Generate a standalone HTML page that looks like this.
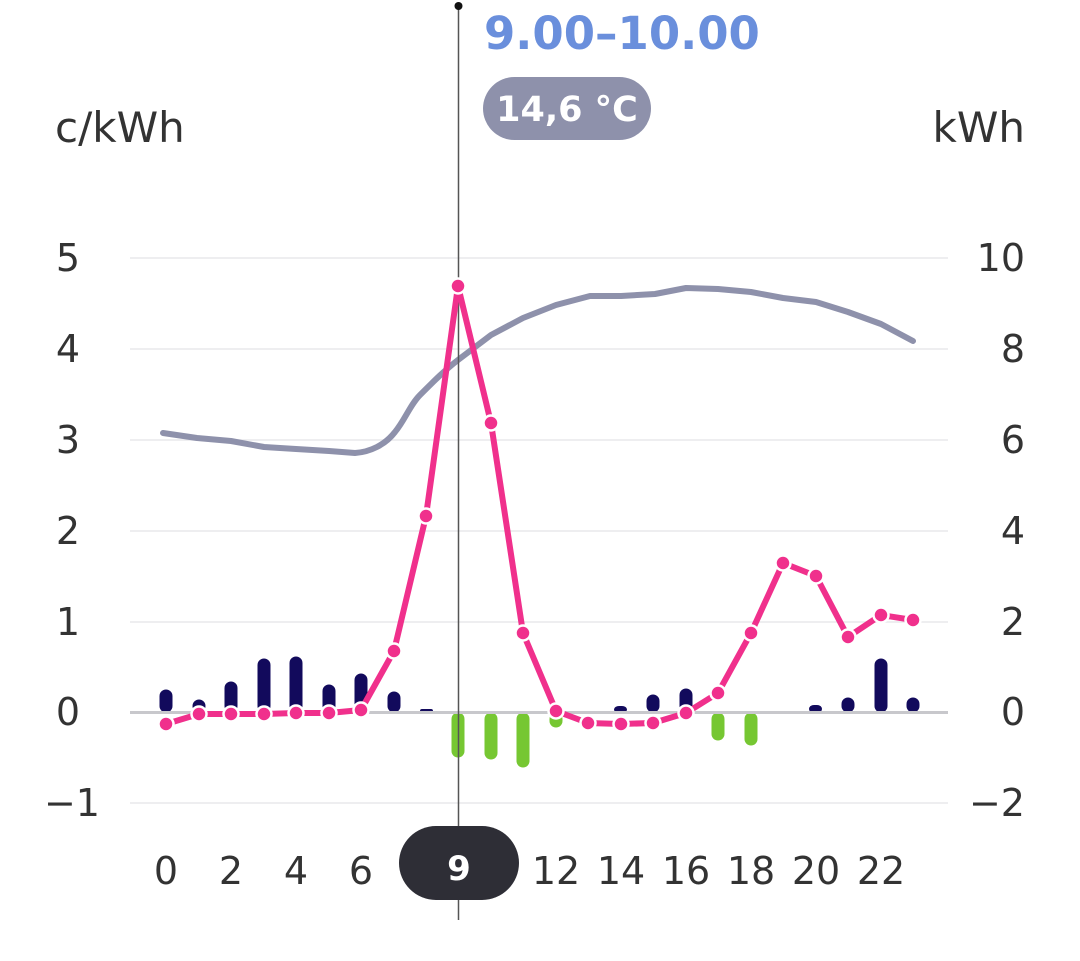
<!DOCTYPE html>
<html><head><style>body{margin:0;background:#fff}svg{display:block}</style></head><body>
<svg width="1080" height="961" xmlns="http://www.w3.org/2000/svg" font-family="DejaVu Sans, sans-serif">
<g stroke="#e8e8ec" stroke-width="1.5">
<line x1="130" y1="258" x2="948" y2="258"/><line x1="130" y1="349" x2="948" y2="349"/><line x1="130" y1="440" x2="948" y2="440"/><line x1="130" y1="531" x2="948" y2="531"/><line x1="130" y1="622" x2="948" y2="622"/><line x1="130" y1="803" x2="948" y2="803"/>
</g>
<g font-size="38" fill="#333">
<text x="55" y="142" font-size="42">c/kWh</text><text x="1025" y="142" text-anchor="end" font-size="42">kWh</text>
<g text-anchor="end"><text x="80" y="271">5</text><text x="80" y="362">4</text><text x="80" y="453">3</text><text x="80" y="544">2</text><text x="80" y="635">1</text><text x="80" y="725">0</text><text x="100" y="816">−1</text></g>
<g text-anchor="end"><text x="1025" y="271">10</text><text x="1025" y="362">8</text><text x="1025" y="453">6</text><text x="1025" y="544">4</text><text x="1025" y="635">2</text><text x="1025" y="725">0</text><text x="1025" y="816">−2</text></g>
<g text-anchor="middle"><text x="166" y="884">0</text><text x="231" y="884">2</text><text x="296" y="884">4</text><text x="361" y="884">6</text><text x="556" y="884">12</text><text x="621" y="884">14</text><text x="686" y="884">16</text><text x="751" y="884">18</text><text x="816" y="884">20</text><text x="881" y="884">22</text></g>
</g>
<g stroke-width="13" stroke-linecap="round" stroke="#120a5c">
<line x1="166" y1="706" x2="166" y2="696"/><line x1="199" y1="706" x2="199" y2="706"/><line x1="231" y1="706" x2="231" y2="688"/><line x1="264" y1="706" x2="264" y2="665"/><line x1="296" y1="706" x2="296" y2="663"/><line x1="329" y1="706" x2="329" y2="691"/><line x1="361" y1="706" x2="361" y2="680"/><line x1="394" y1="706" x2="394" y2="698"/>
<line x1="653" y1="706" x2="653" y2="701"/><line x1="686" y1="706" x2="686" y2="695"/><line x1="848" y1="706" x2="848" y2="704"/><line x1="881" y1="706" x2="881" y2="665"/><line x1="913" y1="706" x2="913" y2="704"/>
</g>
<rect x="420" y="709" width="13" height="4" rx="2" fill="#120a5c"/>
<rect x="614" y="706" width="13" height="7" rx="5" fill="#120a5c"/>
<rect x="809" y="705" width="13" height="8" rx="5" fill="#120a5c"/>
<g stroke-width="13" stroke-linecap="round" stroke="#76c732">
<line x1="458" y1="719" x2="458" y2="751"/><line x1="491" y1="719" x2="491" y2="753"/><line x1="523" y1="719" x2="523" y2="761"/><line x1="556" y1="719" x2="556" y2="721"/><line x1="718" y1="719" x2="718" y2="734"/><line x1="751" y1="719" x2="751" y2="739"/>
</g>
<line x1="130" y1="712.5" x2="948" y2="712.5" stroke="#c8c8cc" stroke-width="3"/>
<path d="M163,433 L197,438 L231,441 L264,447 L296,449 L329,451 L355,453 C370,452 385,445 395,432 C405,420 410,405 420,395 C435,380 445,370 458,360 L491,335 L523,318 L556,305 L590,296 L621,296 L655,294 L686,288 L718,289 L751,292 L783,298 L816,302 L848,312 L881,324 L913,341" fill="none" stroke="#8e91ab" stroke-width="6" stroke-linejoin="round" stroke-linecap="round"/>
<line x1="458.5" y1="6" x2="458.5" y2="920" stroke="#555" stroke-width="1.5"/>
<circle cx="458.5" cy="6" r="4" fill="#111"/>
<polyline points="166,724 199,714 231,714 264,714 296,713 329,713 361,710 394,651 426,516 458,286 491,423 523,633 556,711 588,723 621,724 653,723 686,713 718,693 751,633 783,563 816,576 848,637 881,615 913,620" fill="none" stroke="#f0308c" stroke-width="6" stroke-linejoin="round"/>
<g fill="#f0308c" stroke="#fff" stroke-width="2.5">
<circle cx="166" cy="724" r="7.5"/><circle cx="199" cy="714" r="7.5"/><circle cx="231" cy="714" r="7.5"/><circle cx="264" cy="714" r="7.5"/><circle cx="296" cy="713" r="7.5"/><circle cx="329" cy="713" r="7.5"/><circle cx="361" cy="710" r="7.5"/><circle cx="394" cy="651" r="7.5"/><circle cx="426" cy="516" r="7.5"/><circle cx="458" cy="286" r="7.5"/><circle cx="491" cy="423" r="7.5"/><circle cx="523" cy="633" r="7.5"/><circle cx="556" cy="711" r="7.5"/><circle cx="588" cy="723" r="7.5"/><circle cx="621" cy="724" r="7.5"/><circle cx="653" cy="723" r="7.5"/><circle cx="686" cy="713" r="7.5"/><circle cx="718" cy="693" r="7.5"/><circle cx="751" cy="633" r="7.5"/><circle cx="783" cy="563" r="7.5"/><circle cx="816" cy="576" r="7.5"/><circle cx="848" cy="637" r="7.5"/><circle cx="881" cy="615" r="7.5"/><circle cx="913" cy="620" r="7.5"/>
</g>
<text x="484" y="49" font-size="45" font-weight="bold" fill="#6a8fdc">9.00–10.00</text>
<rect x="483" y="77" width="168" height="63" rx="31.5" fill="#8e91ab"/>
<text x="567" y="121" font-size="35" font-weight="bold" fill="#fff" text-anchor="middle">14,6 °C</text>
<rect x="399" y="826" width="120" height="74" rx="37" fill="#2e2e36"/>
<text x="459" y="880" font-size="34" font-weight="bold" fill="#fff" text-anchor="middle">9</text>
</svg>
</body></html>
